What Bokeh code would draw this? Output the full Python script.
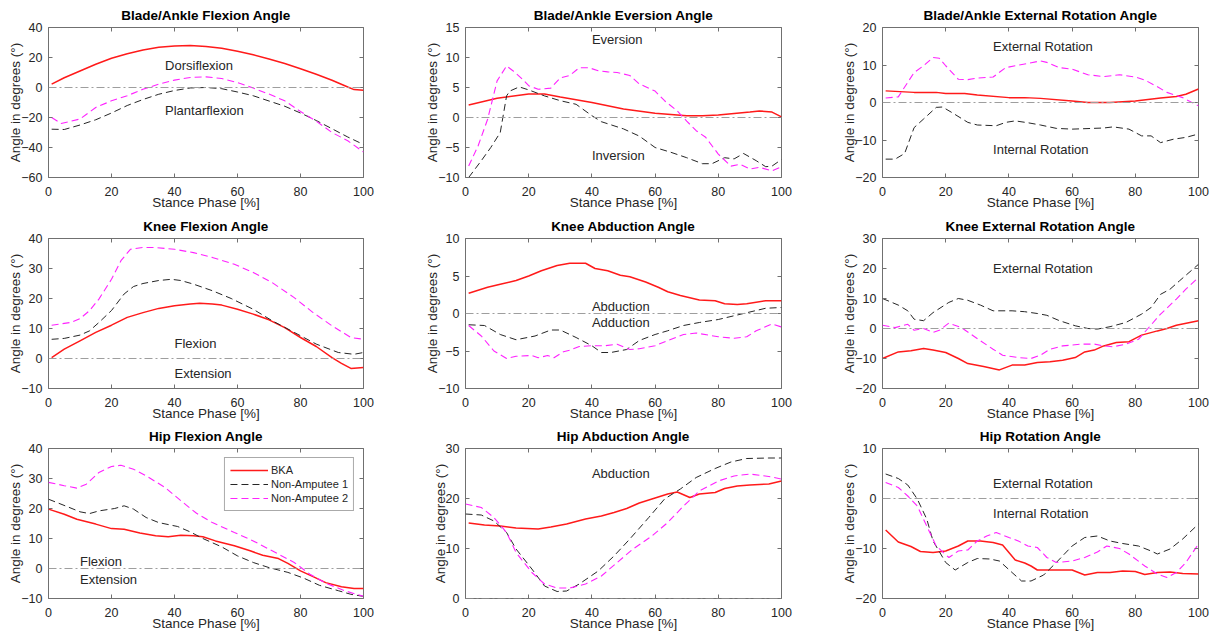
from bokeh.plotting import figure
from bokeh.models import (Range1d, FixedTicker, Span, Legend, LegendItem, LinearAxis,
                          CustomLabelingPolicy)
from bokeh.layouts import column, row
from bokeh.embed import file_html
from bokeh.resources import INLINE
from bokeh.core.properties import value

FONT = "Liberation Sans"
X_TICKS = [0, 20, 40, 60, 80, 100]
X_LABEL = "Stance Phase [%]"
Y_LABEL = "Angle in degrees (°)"
SERIES_NAMES = ["BKA", "Non-Amputee 1", "Non-Amputee 2"]

# ---------------- Blade/Ankle Flexion ----------------
AF_BKA_X = [1, 5, 10, 15, 20, 25, 30, 35, 40, 45, 50, 55, 60, 65, 70, 75, 80, 85, 90, 95, 97, 100]
AF_BKA = [2.2, 6.5, 11, 15.5, 19.5, 22.5, 25, 26.8, 27.7, 28, 27.4, 26.2, 24.2, 21.8, 19, 16, 12.5, 8.8, 4.8, 0.3, -1.4, -1.8]
AF_NA1_X = [1, 5, 10, 15, 20, 25, 30, 35, 40, 45, 50, 55, 60, 65, 70, 75, 80, 85, 90, 95, 100]
AF_NA1 = [-27.8, -28, -25, -21.5, -17, -12, -8, -4.5, -2, -0.3, 0, -0.8, -3, -5.5, -9, -12.5, -17, -22, -27.5, -33, -38]
AF_NA2_X = [1, 4, 10, 15, 20, 25, 30, 35, 40, 45, 50, 55, 60, 65, 70, 75, 80, 85, 90, 95, 100]
AF_NA2 = [-20, -24, -21, -13.3, -8.9, -5.5, -1.1, 2.2, 4.9, 6.7, 7.1, 6, 3.3, -0.4, -4.4, -8.9, -16, -22.5, -30, -35.5, -43]
AF_NOTES = ["Dorsiflexion", "Plantarflexion"]
AF_NOTE_X = [37, 37]
AF_NOTE_Y = [15, -15]

# ---------------- Blade/Ankle Eversion ----------------
AE_BKA_X = [1, 10, 20, 25, 30, 40, 50, 60, 70, 75, 80, 90, 93, 97, 100]
AE_BKA = [2.1, 3.2, 3.9, 3.9, 3.4, 2.5, 1.4, 0.7, 0.3, 0.3, 0.4, 0.9, 1.1, 0.9, 0.1]
AE_NA1_X = [1, 5, 8, 11, 13, 14, 17, 20, 25, 30, 35, 40, 43, 50, 55, 60, 65, 70, 75, 78, 82, 85, 88, 92, 95, 97, 100]
AE_NA1 = [-10, -7.2, -5, -2.5, 3.6, 4.4, 5.1, 4.6, 3.6, 2.8, 2.2, 0.3, -0.7, -1.9, -3.1, -5, -5.8, -6.7, -7.7, -7.7, -6.7, -6.9, -6, -7.2, -8.2, -8.1, -7]
AE_NA2_X = [1, 4, 7, 10, 13, 15, 18, 20, 23, 27, 30, 33, 36, 39, 42, 45, 48, 52, 55, 60, 63, 67, 70, 73, 76, 80, 84, 87, 90, 93, 97, 100]
AE_NA2 = [-8.1, -4.7, -0.3, 6.1, 8.6, 7.8, 6.4, 5.3, 4.7, 4.9, 6.6, 7, 8.3, 8.3, 7.8, 7.6, 7.5, 7, 5.6, 4.4, 2.8, 1.1, -0.6, -2.2, -3.3, -6.1, -8.1, -7.8, -8.6, -8.3, -8.9, -8.2]
AE_NOTES = ["Eversion", "Inversion"]
AE_NOTE_X = [40, 40]
AE_NOTE_Y = [13, -6.3]

# ---------------- Blade/Ankle External Rotation ----------------
AR_BKA_X = [1, 10, 17, 20, 26, 30, 40, 45, 50, 60, 65, 72, 80, 88, 93, 96, 100]
AR_BKA = [3.1, 2.7, 2.7, 2.4, 2.4, 2, 1.3, 1.3, 1.1, 0.4, 0, 0, 0.4, 1.2, 1.6, 2.2, 3.6]
AR_NA1_X = [1, 4, 7, 10, 13, 17, 19, 22, 27, 30, 36, 39, 42, 46, 50, 55, 60, 70, 73, 78, 82, 85, 88, 92, 96, 100]
AR_NA1 = [-15.1, -15.1, -13.6, -6.7, -4.4, -1.3, -1.2, -2.7, -5.3, -6, -6.2, -5.3, -4.9, -5.4, -6, -6.9, -7.1, -6.8, -6.5, -7.1, -8.9, -8.9, -10.7, -9.8, -9.3, -8.4]
AR_NA2_X = [1, 5, 10, 13, 16, 18, 20, 24, 27, 30, 35, 39, 42, 46, 50, 52, 56, 60, 65, 70, 75, 80, 83, 87, 90, 95, 100]
AR_NA2 = [1.2, 1.5, 8, 9.8, 12, 11.8, 9.8, 6.2, 6.1, 6.5, 6.8, 9.3, 9.8, 10.4, 11.1, 10.7, 9.3, 8.9, 7.4, 6.9, 7.4, 6.8, 6, 4.2, 2.7, 1.3, -0.9]
AR_NOTES = ["External Rotation", "Internal Rotation"]
AR_NOTE_X = [35, 35]
AR_NOTE_Y = [15, -12.5]

# ---------------- Knee Flexion ----------------
KF_BKA_X = [1, 5, 10, 15, 20, 25, 30, 35, 40, 45, 48, 52, 55, 60, 65, 70, 75, 80, 85, 90, 93, 96, 100]
KF_BKA = [0.3, 3.1, 5.9, 8.7, 11.1, 13.7, 15.3, 16.7, 17.6, 18.2, 18.4, 18.2, 17.8, 16.4, 14.8, 12.9, 10.3, 7, 4, 0.3, -1.6, -3.3, -3]
KF_NA1_X = [1, 5, 10, 13, 16, 20, 24, 27, 30, 35, 39, 42, 46, 52, 58, 65, 71, 78, 85, 92, 97, 100]
KF_NA1 = [6.4, 6.7, 7.8, 9.2, 12, 16, 21.5, 24, 25, 26, 26.4, 26, 24.8, 22.6, 20, 16.4, 12.6, 8.7, 4.8, 2, 1.4, 2]
KF_NA2_X = [1, 7, 10, 13, 16, 20, 23, 26, 30, 34, 40, 46, 52, 59, 65, 71, 78, 84, 90, 96, 100]
KF_NA2 = [11.1, 12, 13.3, 15.9, 19.8, 26.4, 32.6, 36.4, 37, 37, 36.4, 35.3, 33.7, 31.4, 28.7, 25.3, 20.3, 15.3, 10.9, 7, 6.4]
KF_NOTES = ["Flexion", "Extension"]
KF_NOTE_X = [40, 40]
KF_NOTE_Y = [5, -5]

# ---------------- Knee Abduction ----------------
KA_BKA_X = [1, 7, 11, 16, 20, 24, 29, 33, 38, 41, 45, 49, 52, 57, 61, 64, 68, 74, 79, 82, 86, 89, 95, 100]
KA_BKA = [2.7, 3.5, 3.9, 4.4, 5, 5.7, 6.4, 6.7, 6.7, 6, 5.7, 5.1, 4.9, 4.2, 3.5, 2.9, 2.4, 1.8, 1.7, 1.3, 1.2, 1.3, 1.7, 1.7]
KA_NA1_X = [1, 6, 11, 16, 22, 27, 30, 35, 40, 43, 46, 51, 55, 60, 64, 69, 74, 80, 85, 89, 95, 100]
KA_NA1 = [-1.5, -1.6, -2.8, -3.5, -3, -2.2, -2.2, -3.2, -4.3, -5.2, -5.2, -4.8, -3.6, -2.8, -2.3, -1.6, -1.2, -0.8, -0.3, 0.1, 0.7, 0.8]
KA_NA2_X = [1, 5, 9, 13, 16, 21, 23, 26, 28, 31, 33, 36, 40, 44, 48, 52, 55, 60, 64, 69, 73, 80, 85, 89, 92, 97, 100]
KA_NA2 = [-1.6, -3, -5, -6, -5.7, -5.6, -5.9, -5.6, -5.9, -5.1, -4.9, -4.4, -4.3, -4.3, -4.1, -4.8, -4.7, -4.3, -3.6, -2.8, -2.6, -3.1, -3.3, -3.1, -2.3, -1.4, -1.8]
KA_NOTES = ["Abduction", "Adduction"]
KA_NOTE_X = [40, 40]
KA_NOTE_Y = [1, -1.2]

# ---------------- Knee External Rotation ----------------
KR_BKA_X = [0, 5, 9, 13, 16, 20, 24, 27, 32, 37, 41, 45, 49, 53, 57, 61, 64, 67, 70, 74, 78, 82, 87, 90, 93, 100]
KR_BKA = [-10, -7.8, -7.4, -6.7, -7.2, -8, -10, -11.7, -12.7, -13.8, -12.2, -12.2, -11.3, -11.1, -10.6, -9.7, -7.8, -7.2, -5.8, -4.7, -4.4, -2.2, -0.8, 0, 1.1, 2.6]
KR_NA1_X = [0, 5, 8, 10, 13, 16, 21, 24, 27, 31, 35, 41, 45, 49, 52, 56, 61, 65, 68, 72, 77, 82, 85, 88, 91, 94, 100]
KR_NA1 = [10, 7.8, 5.9, 3.1, 2.6, 5.3, 8.7, 10, 9.4, 7.8, 5.9, 5.9, 5.6, 5, 4.4, 2.6, 0.9, 0, -0.2, 0.6, 2, 4.8, 7, 11.4, 13.1, 15.9, 21.4]
KR_NA2_X = [0, 4, 8, 10, 13, 16, 18, 21, 25, 28, 31, 35, 38, 43, 47, 50, 53, 57, 63, 67, 70, 73, 77, 81, 84, 88, 93, 96, 100]
KR_NA2 = [1.1, 0.3, 1.4, -0.6, 0, -1.3, -0.6, 1.8, 0.3, -1.9, -4.1, -6.9, -8.9, -9.7, -10, -8.9, -6.9, -5.8, -5.2, -5.2, -5.8, -6.1, -5.2, -3.6, 0, 4.8, 9.8, 13.1, 17]
KR_NOTES = ["External Rotation"]
KR_NOTE_X = [35]
KR_NOTE_Y = [20]

# ---------------- Hip Flexion ----------------
HF_BKA_X = [0, 5, 9, 15, 20, 24, 29, 34, 38, 42, 46, 49, 53, 59, 64, 68, 73, 76, 80, 84, 88, 93, 97, 100]
HF_BKA = [19.8, 18.1, 16.4, 14.8, 13.3, 13.1, 11.8, 10.9, 10.6, 11.1, 10.9, 10.6, 9.2, 7.6, 5.9, 4.4, 3.3, 1.7, -0.8, -2.7, -4.7, -6.1, -6.7, -6.7]
HF_NA1_X = [0, 6, 10, 13, 16, 21, 24, 27, 31, 35, 41, 45, 49, 55, 60, 65, 70, 76, 81, 86, 92, 96, 100]
HF_NA1 = [23.1, 20.6, 18.9, 18.3, 19.2, 20, 20.9, 19.8, 17, 15.3, 14, 12.2, 10, 7.2, 4.2, 2, 0.3, -1.3, -3.2, -5.6, -7.4, -8.6, -9.3]
HF_NA2_X = [0, 5, 9, 12, 16, 20, 23, 27, 31, 37, 42, 47, 52, 59, 65, 71, 78, 83, 88, 94, 100]
HF_NA2 = [28.7, 27.6, 26.8, 28.1, 32, 34, 34.4, 33.1, 30.9, 27, 22.6, 18.4, 15.3, 12, 9.2, 5.9, 2, -1.9, -4.9, -7.4, -9.3]
HF_NOTES = ["Flexion", "Extension"]
HF_NOTE_X = [10, 10]
HF_NOTE_Y = [2.5, -3.6]

# ---------------- Hip Abduction ----------------
HA_BKA_X = [1, 6, 11, 16, 23, 27, 32, 38, 43, 47, 51, 55, 60, 64, 67, 71, 74, 79, 82, 86, 90, 96, 100]
HA_BKA = [15.1, 14.7, 14.5, 14.1, 13.9, 14.3, 14.9, 15.9, 16.5, 17.2, 18, 19.1, 20.1, 20.9, 21.3, 20.2, 20.9, 21.2, 22, 22.5, 22.7, 22.9, 23.5]
HA_NA1_X = [0, 5, 9, 13, 16, 21, 25, 29, 32, 36, 42, 47, 52, 58, 63, 68, 73, 79, 84, 89, 96, 100]
HA_NA1 = [16.9, 16.7, 15.5, 13.2, 9.9, 5.9, 2.5, 1.4, 1.5, 2.9, 5.5, 8.5, 11.9, 16.2, 19.9, 21.9, 24.2, 26, 27.3, 28, 28.1, 28.1]
HA_NA2_X = [0, 5, 9, 13, 16, 21, 25, 29, 33, 38, 43, 48, 53, 59, 64, 69, 74, 80, 85, 90, 96, 100]
HA_NA2 = [18.9, 18.2, 16.2, 13.2, 9.2, 5.2, 2.9, 2.1, 2.1, 2.9, 4.5, 7.2, 9.9, 12.5, 15.2, 18.5, 21.5, 23.5, 24.5, 24.9, 24.4, 23.9]
HA_NOTES = ["Abduction"]
HA_NOTE_X = [40]
HA_NOTE_Y = [25]

# ---------------- Hip Rotation ----------------
HR_BKA_X = [1, 5, 9, 12, 16, 20, 24, 27, 31, 35, 38, 42, 45, 47, 49, 55, 60, 64, 68, 72, 76, 80, 83, 87, 91, 95, 100]
HR_BKA = [-6.3, -8.7, -9.6, -10.6, -10.8, -10.5, -9.5, -8.5, -8.5, -8.8, -9.3, -12.3, -12.9, -13.5, -14.3, -14.3, -14.3, -15.3, -14.8, -14.8, -14.5, -14.6, -15.2, -14.8, -14.7, -15, -15.1]
HR_NA1_X = [1, 5, 8, 11, 14, 16, 20, 23, 27, 30, 34, 37, 41, 44, 47, 51, 55, 60, 64, 68, 72, 76, 81, 85, 87, 91, 95, 100]
HR_NA1 = [4.9, 4, 2.7, -0.1, -4.1, -8.5, -12.8, -14.3, -12.8, -12, -12.1, -12.5, -14.8, -16.5, -16.5, -15.3, -12.8, -9.5, -7.8, -7.5, -8.5, -9, -9.5, -10.5, -11.1, -10.1, -8.1, -5.1]
HR_NA2_X = [1, 5, 8, 11, 14, 17, 21, 24, 27, 30, 33, 36, 40, 43, 46, 49, 52, 55, 60, 64, 68, 71, 75, 78, 83, 87, 90, 93, 96, 100]
HR_NA2 = [3.2, 2.2, 0.5, -1.5, -5.5, -9.5, -11.8, -10.5, -10.3, -8.5, -7.5, -6.8, -7.8, -8.5, -9.5, -9.8, -11.8, -12.8, -12.5, -11.8, -10.7, -9.5, -10, -11.1, -13.5, -15.1, -15.8, -14.8, -12.8, -9.1]
HR_NOTES = ["External Rotation", "Internal Rotation"]
HR_NOTE_X = [35, 35]
HR_NOTE_Y = [3, -3]

# ---------------- styling ----------------
LINE_COLORS = ["#ff1a1a", "#262626", "#ff22ff"]
LINE_WIDTHS = [1.5, 1.0, 1.1]
LINE_DASHES = ["solid", "7 4", "7 4"]
FRAME_COLOR = "#707070"
TEXT_COLOR = "#262626"

COL_WIDTHS = [417, 417, 379]
COL_LEFT = [48, 48, 48]
COL_RIGHT = [54, 53, 15]
ROW_HEIGHTS = [214, 211, 213]
ROW_TOP = [27, 24, 23]
ROW_BOTTOM = [37, 37, 40]

HIDE_LABELS = """
for (const i of indices) { indices.unset(i) }
return indices
"""


def tick_only_axis(ticks):
    return LinearAxis(ticker=FixedTicker(ticks=ticks), major_label_text_font_size="1px",
                      major_label_policy=CustomLabelingPolicy(code=HIDE_LABELS),
                      major_label_standoff=0, major_tick_in=4, major_tick_out=0,
                      axis_line_color=None, minor_tick_line_color=None,
                      major_tick_line_color=FRAME_COLOR)


def make_panel(title, y_range, y_ticks, xs, ys, note_x, note_y, notes, col, rowi, legend=False):
    p = figure(width=COL_WIDTHS[col], height=ROW_HEIGHTS[rowi],
               x_range=Range1d(0, 100), y_range=Range1d(*y_range),
               output_backend="svg", toolbar_location=None,
               min_border_left=COL_LEFT[col], min_border_right=COL_RIGHT[col],
               min_border_top=ROW_TOP[rowi], min_border_bottom=ROW_BOTTOM[rowi],
               background_fill_color="white", border_fill_color="white",
               outline_line_color=FRAME_COLOR, outline_line_width=1)
    p.grid.visible = False
    p.title.text = title
    p.title.align = "center"
    p.title.text_font = FONT
    p.title.text_font_style = "bold"
    p.title.text_font_size = "13.5px"
    p.title.text_color = "#000000"
    p.title.standoff = 1

    for ax, ticks, lab in [(p.xaxis[0], X_TICKS, X_LABEL), (p.yaxis[0], y_ticks, Y_LABEL)]:
        ax.ticker = FixedTicker(ticks=ticks)
        ax.axis_label = lab
        ax.axis_label_text_font = FONT
        ax.axis_label_text_font_size = "13.5px"
        ax.axis_label_text_font_style = "normal"
        ax.axis_label_text_color = TEXT_COLOR
        ax.major_label_text_font = FONT
        ax.major_label_text_font_size = "12.5px"
        ax.major_label_text_color = TEXT_COLOR
        ax.axis_line_color = None
        ax.major_tick_in = 4
        ax.major_tick_out = 0
        ax.major_tick_line_color = FRAME_COLOR
        ax.minor_tick_line_color = None
    p.xaxis[0].major_label_standoff = 9
    p.xaxis[0].axis_label_standoff = -4
    p.yaxis[0].major_label_standoff = 6
    p.yaxis[0].axis_label_standoff = -5

    p.add_layout(tick_only_axis(y_ticks), "right")
    p.add_layout(tick_only_axis(X_TICKS), "above")

    p.add_layout(Span(location=0, dimension="width", line_color="#9e9e9e",
                      line_dash="8 3 2 3", line_width=1))

    renderers = []
    for i in range(3):
        r = p.line(xs[i], ys[i], line_color=LINE_COLORS[i], line_width=LINE_WIDTHS[i],
                   line_dash=LINE_DASHES[i])
        renderers.append(r)

    p.text(x=note_x, y=note_y, text=notes, text_font=value(FONT), text_font_size="13px",
           text_color=TEXT_COLOR, text_align="left", text_baseline="middle")

    if legend:
        lg = Legend(items=[LegendItem(label=SERIES_NAMES[i], renderers=[renderers[i]]) for i in range(3)],
                    location="top_right", margin=9, padding=5, spacing=0,
                    glyph_width=38, glyph_height=14, label_height=14, label_standoff=3,
                    label_text_font=FONT, label_text_font_size="11px", label_text_color=TEXT_COLOR,
                    border_line_color="#555555", border_line_width=1,
                    background_fill_color="white", background_fill_alpha=1.0)
        p.add_layout(lg)
    return p


p1 = make_panel("Blade/Ankle Flexion Angle", (-60, 40), [-60, -40, -20, 0, 20, 40],
                [AF_BKA_X, AF_NA1_X, AF_NA2_X], [AF_BKA, AF_NA1, AF_NA2],
                AF_NOTE_X, AF_NOTE_Y, AF_NOTES, 0, 0)
p2 = make_panel("Blade/Ankle Eversion Angle", (-10, 15), [-10, -5, 0, 5, 10, 15],
                [AE_BKA_X, AE_NA1_X, AE_NA2_X], [AE_BKA, AE_NA1, AE_NA2],
                AE_NOTE_X, AE_NOTE_Y, AE_NOTES, 1, 0)
p3 = make_panel("Blade/Ankle External Rotation Angle", (-20, 20), [-20, -10, 0, 10, 20],
                [AR_BKA_X, AR_NA1_X, AR_NA2_X], [AR_BKA, AR_NA1, AR_NA2],
                AR_NOTE_X, AR_NOTE_Y, AR_NOTES, 2, 0)
p4 = make_panel("Knee Flexion Angle", (-10, 40), [-10, 0, 10, 20, 30, 40],
                [KF_BKA_X, KF_NA1_X, KF_NA2_X], [KF_BKA, KF_NA1, KF_NA2],
                KF_NOTE_X, KF_NOTE_Y, KF_NOTES, 0, 1)
p5 = make_panel("Knee Abduction Angle", (-10, 10), [-10, -5, 0, 5, 10],
                [KA_BKA_X, KA_NA1_X, KA_NA2_X], [KA_BKA, KA_NA1, KA_NA2],
                KA_NOTE_X, KA_NOTE_Y, KA_NOTES, 1, 1)
p6 = make_panel("Knee External Rotation Angle", (-20, 30), [-20, -10, 0, 10, 20, 30],
                [KR_BKA_X, KR_NA1_X, KR_NA2_X], [KR_BKA, KR_NA1, KR_NA2],
                KR_NOTE_X, KR_NOTE_Y, KR_NOTES, 2, 1)
p7 = make_panel("Hip Flexion Angle", (-10, 40), [-10, 0, 10, 20, 30, 40],
                [HF_BKA_X, HF_NA1_X, HF_NA2_X], [HF_BKA, HF_NA1, HF_NA2],
                HF_NOTE_X, HF_NOTE_Y, HF_NOTES, 0, 2, legend=True)
p8 = make_panel("Hip Abduction Angle", (0, 30), [0, 10, 20, 30],
                [HA_BKA_X, HA_NA1_X, HA_NA2_X], [HA_BKA, HA_NA1, HA_NA2],
                HA_NOTE_X, HA_NOTE_Y, HA_NOTES, 1, 2)
p9 = make_panel("Hip Rotation Angle", (-20, 10), [-20, -10, 0, 10],
                [HR_BKA_X, HR_NA1_X, HR_NA2_X], [HR_BKA, HR_NA1, HR_NA2],
                HR_NOTE_X, HR_NOTE_Y, HR_NOTES, 2, 2)

layout = column(row(p1, p2, p3), row(p4, p5, p6), row(p7, p8, p9))

with open("out.html", "w") as f:
    f.write(file_html(layout, INLINE))
